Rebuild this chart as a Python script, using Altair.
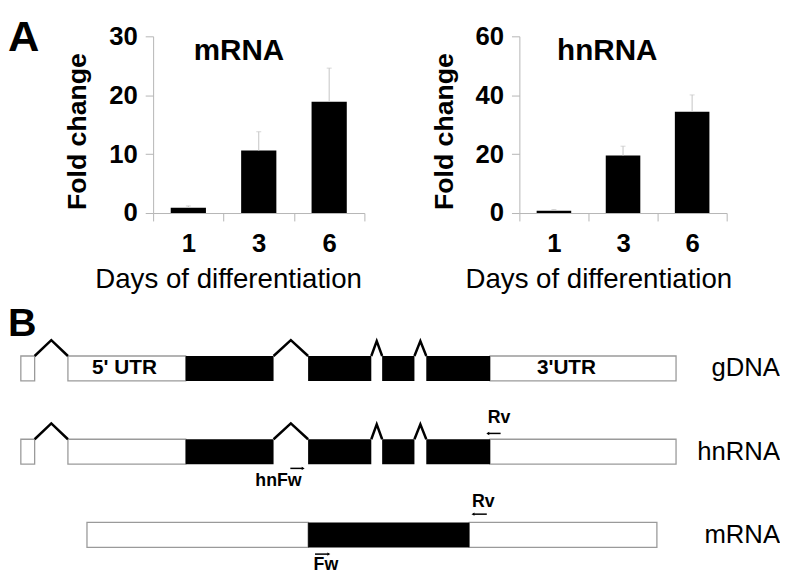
import altair as alt
import pandas as pd

FONT = "Liberation Sans"
AXIS_GRAY = "#b5b5b5"
ERR_GRAY = "#c4c4c4"

# ---------------- Panel A data ----------------
days = ["1", "3", "6"]
mrna_fold = [0.9, 10.6, 18.9]
mrna_err = [0.3, 3.2, 5.7]
hnrna_fold = [0.8, 19.5, 34.4]
hnrna_err = [0.4, 3.2, 5.7]

# ---------------- Panel B data (gene map, map units) ----------------
row_names = ["gDNA", "hnRNA", "mRNA"]
row_track = [0, 1, 2]
# gDNA and hnRNA share the genomic structure
gen_utr_start = [19, 66.7, 494.3]
gen_utr_end = [33, 186, 682.7]
gen_cds_start = [186, 310, 385, 429.7]
gen_cds_end = [275, 374, 417.7, 494.3]
intron_start = [33, 275, 374, 417.7]
intron_end = [66.7, 310, 385, 429.7]
intron_rise = [0.19, 0.19, 0.18, 0.18]
# mature mRNA
mrna_utr_start = [86, 473.3]
mrna_utr_end = [310, 663.3]
mrna_cds_start = [310]
mrna_cds_end = [473.3]
# UTR labels on gDNA
utr_labels = ["5' UTR", "3'UTR"]
utr_label_x = [124, 571.7]
# primers
primer_names = ["hnFw", "Rv", "Fw", "Rv"]
primer_label_x = [280, 503.5, 328, 487.5]
primer_label_t = [1.35, 0.60, 2.36, 1.61]
primer_arrow_x1 = [292, 492, 317, 477]
primer_arrow_x2 = [305, 505, 331, 491]
primer_arrow_t = [1.20, 0.78, 2.23, 1.75]
primer_dir = ["right", "left", "right", "left"]

BOX_HALF = 0.15


def bar_panel(values, errs, ymax, ystep, name, width, name_x, title_x, letter=None):
    df = pd.DataFrame({"day": days, "fold": values,
                       "hi": [v + e for v, e in zip(values, errs)]})
    xenc = alt.X("day:N", sort=days,
                 scale=alt.Scale(paddingInner=0, paddingOuter=0),
                 axis=alt.Axis(title="Days of differentiation", labelAngle=0,
                               tickBand="extent", tickSize=8, tickColor=AXIS_GRAY,
                               domainColor=AXIS_GRAY, labelFont=FONT,
                               labelFontSize=26, labelFontWeight="bold",
                               labelColor="black", labelPadding=10,
                               titleFont=FONT, titleFontSize=28,
                               titleFontWeight="normal", titleColor="black",
                               titleX=title_x, titleY=75, titleAlign="center",
                               titleBaseline="alphabetic", grid=False))
    yenc = alt.Y("fold:Q", scale=alt.Scale(domain=[0, ymax], nice=False),
                 axis=alt.Axis(title="Fold change",
                               values=list(range(0, ymax + 1, ystep)),
                               tickSize=8, tickColor=AXIS_GRAY, domainColor=AXIS_GRAY,
                               labelFont=FONT, labelFontSize=26,
                               labelFontWeight="bold", labelColor="black",
                               labelPadding=8, titleFont=FONT, titleFontSize=27,
                               titleFontWeight="bold", titleColor="black",
                               titleX=-76, titleY=96, titleAngle=270,
                               titleAlign="center", titleBaseline="middle",
                               grid=False))
    base = alt.Chart(df)
    bars = base.mark_bar(color="black", width={"band": 0.5}).encode(x=xenc, y=yenc)
    err = base.mark_rule(color=ERR_GRAY, strokeWidth=1).encode(
        x=alt.X("day:N", sort=days), y="fold:Q", y2="hi:Q")
    cap = base.mark_tick(color=ERR_GRAY, thickness=1, size=5,
                         orient="horizontal").encode(
        x=alt.X("day:N", sort=days), y="hi:Q")
    ttl = alt.Chart(pd.DataFrame({"t": [name]})).mark_text(
        font=FONT, fontSize=30, fontWeight="bold", align="center",
        baseline="middle", color="black").encode(
        x=alt.value(name_x), y=alt.value(15), text="t:N")
    layers = [bars, err, cap, ttl]
    if letter:
        # invisible spacer so the panel letter keeps full headroom
        spacer = alt.Chart(pd.DataFrame({"t": [letter]})).mark_rule(
            opacity=0, strokeWidth=1).encode(
            x=alt.value(-140), y=alt.value(-25), y2=alt.value(-15))
        lt = alt.Chart(pd.DataFrame({"t": [letter]})).mark_text(
            font=FONT, fontSize=44, fontWeight="bold", align="left",
            baseline="top", color="black").encode(
            x=alt.value(-147), y=alt.value(-20), text="t:N")
        layers += [spacer, lt]
    return alt.layer(*layers).properties(width=width, height=179)


left = bar_panel(mrna_fold, mrna_err, 30, 10, "mRNA", 214, 87, 76, letter="A")
right = bar_panel(hnrna_fold, hnrna_err, 60, 20, "hnRNA", 210, 89, 80)
top = alt.hconcat(left, right, spacing=157, bounds="flush")

# ---------------- Panel B ----------------
# the diagram's plot area starts under the left bar panel; the map extends left of it
xs = alt.Scale(domain=[153, 780], nice=False, zero=False)
ys = alt.Scale(domain=[-0.824, 2.2835], nice=False, zero=False, reverse=True)

rects = []
for track in [0, 1]:
    for s, e in zip(gen_utr_start, gen_utr_end):
        rects.append({"x": s, "x2": e, "t": track, "kind": "utr"})
    for s, e in zip(gen_cds_start, gen_cds_end):
        rects.append({"x": s, "x2": e, "t": track, "kind": "cds"})
for s, e in zip(mrna_utr_start, mrna_utr_end):
    rects.append({"x": s, "x2": e, "t": 2, "kind": "utr"})
for s, e in zip(mrna_cds_start, mrna_cds_end):
    rects.append({"x": s, "x2": e, "t": 2, "kind": "cds"})
rdf = pd.DataFrame(rects)
rdf["y"] = rdf["t"] - BOX_HALF
rdf["y2"] = rdf["t"] + BOX_HALF

utr_layer = alt.Chart(rdf[rdf.kind == "utr"]).mark_rect(
    fill="white", stroke="#9a9a9a", strokeWidth=1.3).encode(
    x=alt.X("x:Q", scale=xs, axis=None), x2="x2:Q",
    y=alt.Y("y:Q", scale=ys, axis=None), y2="y2:Q")
cds_layer = alt.Chart(rdf[rdf.kind == "cds"]).mark_rect(fill="black").encode(
    x=alt.X("x:Q", scale=xs, axis=None), x2="x2:Q",
    y=alt.Y("y:Q", scale=ys, axis=None), y2="y2:Q")

pts = []
k = 0
for track in [0, 1]:
    for s, e, h in zip(intron_start, intron_end, intron_rise):
        topv = track - BOX_HALF
        pts += [{"id": k, "o": 0, "x": s, "y": topv},
                {"id": k, "o": 1, "x": (s + e) / 2, "y": topv - h},
                {"id": k, "o": 2, "x": e, "y": topv}]
        k += 1
intron_layer = alt.Chart(pd.DataFrame(pts)).mark_line(
    color="black", strokeWidth=2.5).encode(
    x=alt.X("x:Q", scale=xs, axis=None), y=alt.Y("y:Q", scale=ys, axis=None),
    detail="id:N", order="o:Q")

utr_text = alt.Chart(pd.DataFrame({"x": utr_label_x, "t": [0, 0], "lab": utr_labels})).mark_text(
    font=FONT, fontSize=21, fontWeight="bold", align="center", baseline="middle",
    color="black").encode(x=alt.X("x:Q", scale=xs, axis=None),
                          y=alt.Y("t:Q", scale=ys, axis=None), text="lab:N")

row_text = alt.Chart(pd.DataFrame({"t": row_track, "lab": row_names})).mark_text(
    font=FONT, fontSize=26, align="right", baseline="middle", color="black").encode(
    x=alt.value(635), y=alt.Y("t:Q", scale=ys, axis=None), text="lab:N")

pdf = pd.DataFrame({"lab": primer_names, "lx": primer_label_x, "lt": primer_label_t,
                    "x1": primer_arrow_x1, "x2": primer_arrow_x2, "at": primer_arrow_t,
                    "dir": primer_dir})
pdf["hx"] = [b if d == "right" else a for a, b, d in zip(pdf.x1, pdf.x2, pdf.dir)]
pdf["shape"] = ["triangle-" + d for d in pdf.dir]

primer_text = alt.Chart(pdf).mark_text(
    font=FONT, fontSize=18, fontWeight="bold", align="center", baseline="middle",
    color="black").encode(x=alt.X("lx:Q", scale=xs, axis=None),
                          y=alt.Y("lt:Q", scale=ys, axis=None), text="lab:N")
primer_line = alt.Chart(pdf).mark_rule(color="black", strokeWidth=1.5).encode(
    x=alt.X("x1:Q", scale=xs, axis=None), x2="x2:Q",
    y=alt.Y("at:Q", scale=ys, axis=None))
primer_head = alt.Chart(pdf).mark_point(filled=True, size=12, color="black", opacity=1).encode(
    x=alt.X("hx:Q", scale=xs, axis=None), y=alt.Y("at:Q", scale=ys, axis=None),
    shape=alt.Shape("shape:N", scale=None))

b_letter = alt.Chart(pd.DataFrame({"t": ["B"]})).mark_text(
    font=FONT, fontSize=40, fontWeight="bold", align="left", baseline="alphabetic",
    color="black").encode(x=alt.value(-147), y=alt.value(37), text="t:N")

diagram = alt.layer(utr_layer, cds_layer, intron_layer, utr_text, row_text,
                    primer_line, primer_head, primer_text, b_letter).properties(
    width=627, height=262)

chart = alt.vconcat(top, diagram, spacing=7).properties(
    padding=0, background="white").configure_view(stroke=None, strokeWidth=0)

chart.save("out.html", embed_options={"renderer": "svg", "actions": False})
